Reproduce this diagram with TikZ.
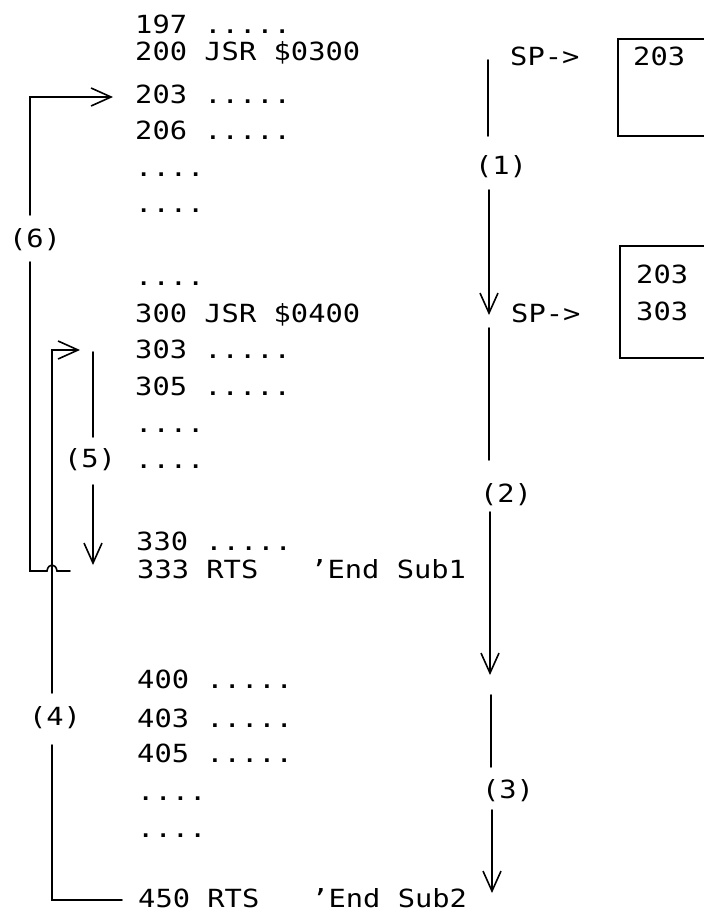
\documentclass[tikz,border=0pt]{standalone}
\usepackage{fontspec}
\newfontfamily\prt[FakeStretch=1.15]{DejaVu Sans Mono}
\usetikzlibrary{arrows.meta}
\begin{document}
\begin{tikzpicture}[x=1pt,y=-1pt,
  code/.style={anchor=base west,inner sep=0pt,font=\prt\fontsize{25}{25}\selectfont},
  lbl/.style={inner sep=0pt,font=\prt\fontsize{25}{25}\selectfont},
  wire/.style={line width=1.6pt,line cap=round,line join=miter},
  arr/.style={wire,-{Straight Barb[length=20pt,width=18pt,line width=1.6pt]}},
  box/.style={line width=1.6pt}]
\clip (0,0) rectangle (704,913);
\fill[white] (0,0) rectangle (704,913);
% program listing
\node[code] (t197) at (135,33) {197 .....};
\node[code] (t200) at (135,60) {200 JSR \$0300};
\node[code] (t203) at (135,103) {203 .....};
\node[code] (t206) at (135,139) {206 .....};
\node[code] (d1) at (135,176) {....};
\node[code] (d2) at (135,212) {....};
\node[code] (d3) at (135,285) {....};
\node[code] (t300) at (135,322) {300 JSR \$0400};
\node[code] (t303) at (135,358) {303 .....};
\node[code] (t305) at (135,395) {305 .....};
\node[code] (d4) at (135,432) {....};
\node[code] (d5) at (135,468) {....};
\node[code] (t330) at (136,550) {330 .....};
\node[code] (t333) at (137,578) {333 RTS\ \ \ ’End Sub1};
\node[code] (t400) at (137,688) {400 .....};
\node[code] (t403) at (137,727) {403 .....};
\node[code] (t405) at (137,762) {405 .....};
\node[code] (d6) at (137,800) {....};
\node[code] (d7) at (137,837) {....};
\node[code] (t450) at (138,907) {450 RTS\ \ \ ’End Sub2};
% stack pictures
\node[code] (sp1) at (510,65) {SP->};
\draw[box] (730,39) -- (618,39) -- (618,136) -- (730,136);
\node[code] (s1a) at (633,65) {203};
\node[code] (sp2) at (511,322) {SP->};
\draw[box] (730,246) -- (620,246) -- (620,358) -- (730,358);
\node[code] (s2a) at (636,283) {203};
\node[code] (s2b) at (636,320) {303};
% step labels
\node[lbl] (L1) at (501,167) {(1)};
\node[lbl] (L2) at (506,495) {(2)};
\node[lbl] (L3) at (508,791) {(3)};
\node[lbl] (L4) at (55,718) {(4)};
\node[lbl] (L5) at (90,460) {(5)};
\node[lbl] (L6) at (35,240) {(6)};
% right flow arrows
\coordinate (a1s) at (488,60);
\coordinate (a1b) at (488,136);
\coordinate (a1c) at (489,190);
\coordinate (a1t) at (489,315);
\draw[wire] (a1s) -- (a1b);
\draw[arr] (a1c) -- (a1t);
\coordinate (a2s) at (489,328);
\coordinate (a2b) at (489,460);
\coordinate (a2c) at (490,512);
\coordinate (a2t) at (490,675);
\draw[wire] (a2s) -- (a2b);
\draw[arr] (a2c) -- (a2t);
\coordinate (a3s) at (491,695);
\coordinate (a3b) at (491,767);
\coordinate (a3c) at (492,810);
\coordinate (a3t) at (492,893);
\draw[wire] (a3s) -- (a3b);
\draw[arr] (a3c) -- (a3t);
% (6) return from Sub1 to 203
\coordinate (r6s) at (70,571);
\coordinate (r6a) at (57,571);
\coordinate (r6b) at (47,571);
\coordinate (r6c) at (30,571);
\coordinate (r6d) at (30,262);
\coordinate (r6e) at (30,215);
\coordinate (r6f) at (30,97);
\coordinate (r6t) at (113,97);
\draw[wire] (r6s) -- (r6a) .. controls (56,563) and (48,563) .. (r6b) -- (r6c) -- (r6d);
\draw[arr] (r6e) -- (r6f) -- (r6t);
% (4) return from Sub2 to 303
\coordinate (r4s) at (122,900);
\coordinate (r4a) at (52,900);
\coordinate (r4b) at (52,745);
\coordinate (r4c) at (52,693);
\coordinate (r4d) at (52,350);
\coordinate (r4t) at (80,350);
\draw[wire] (r4s) -- (r4a) -- (r4b);
\draw[arr] (r4c) -- (r4d) -- (r4t);
% (5) flow within Sub1
\coordinate (f5s) at (93,352);
\coordinate (f5b) at (93,437);
\coordinate (f5c) at (93,485);
\coordinate (f5t) at (93,565);
\draw[wire] (f5s) -- (f5b);
\draw[arr] (f5c) -- (f5t);
\end{tikzpicture}
\end{document}
